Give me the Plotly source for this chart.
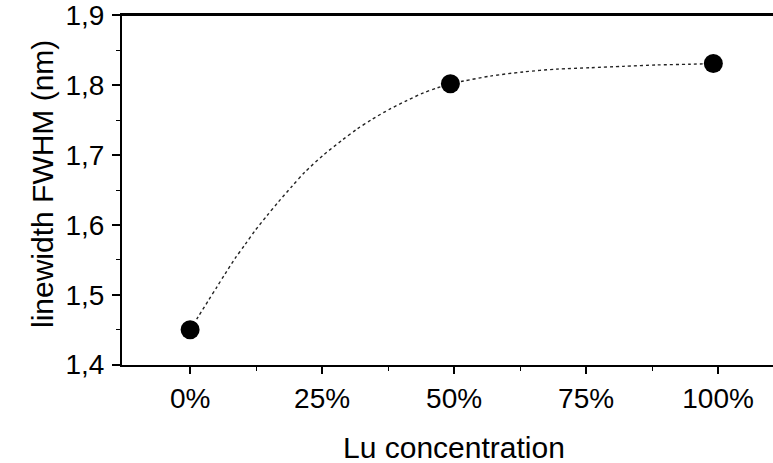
import plotly.graph_objects as go

# Measured data points
conc = [0, 49.3, 99.1]
fwhm = [1.45, 1.802, 1.831]

# Dotted guide curve
curve_x = [0, 1.57, 3.47, 5.06, 6.63, 8.52, 10.42, 12.31, 14.53, 16.72, 19.26, 21.78,
           25.25, 28.73, 31.57, 34.41, 37.88, 41.04, 44.19, 46.72, 49.3,
           51.8, 56.8, 63.1, 69.4, 75.8, 82.1, 88.4, 94.7, 99.1]
curve_y = [1.45, 1.469, 1.492, 1.511, 1.530, 1.552, 1.572, 1.592, 1.613, 1.633, 1.655, 1.676,
           1.700, 1.721, 1.737, 1.751, 1.766, 1.778, 1.789, 1.796, 1.802,
           1.806, 1.813, 1.819, 1.823, 1.825, 1.827, 1.829, 1.830, 1.831]

x_tickvals = [0, 25, 50, 75, 100]
x_ticktext = ["0%", "25%", "50%", "75%", "100%"]
y_tickvals = [1.4, 1.5, 1.6, 1.7, 1.8, 1.9]
y_ticktext = ["1,4", "1,5", "1,6", "1,7", "1,8", "1,9"]

FONT = "Liberation Sans, Arial, sans-serif"

fig = go.Figure()
fig.add_trace(go.Scatter(x=curve_x, y=curve_y, mode="lines",
                         line=dict(color="#222", width=1.4, dash="dot", shape="spline", smoothing=0.8),
                         hoverinfo="skip", showlegend=False))
fig.add_trace(go.Scatter(x=conc, y=fwhm, mode="markers",
                         marker=dict(color="black", size=19), showlegend=False))

fig.update_layout(
    width=773, height=463,
    margin=dict(l=122, r=0, t=15, b=98),
    paper_bgcolor="white", plot_bgcolor="white",
    separators=",.",
    font=dict(family=FONT, color="black", size=28),
    xaxis=dict(range=[-12.9, 110.4], tickvals=x_tickvals, ticktext=x_ticktext,
               showgrid=False, zeroline=False, showline=True, linecolor="black", linewidth=2,
               mirror=True, ticks="outside", ticklen=7, tickwidth=1.5, tickcolor="black",
               minor=dict(tickvals=[12.5, 37.5, 62.5, 87.5], ticks="outside", ticklen=4,
                          tickwidth=1.2, tickcolor="black"),
               tickfont=dict(size=28), ticklabelstandoff=0, ticklabeloverflow="allow"),
    yaxis=dict(range=[1.3995, 1.9005], tickvals=y_tickvals, ticktext=y_ticktext,
               showgrid=False, zeroline=False, showline=True, linecolor="black", linewidth=2,
               ticks="outside", ticklen=8, tickwidth=1.5, tickcolor="black",
               minor=dict(tickvals=[1.45, 1.55, 1.65, 1.75, 1.85], ticks="outside", ticklen=4,
                          tickwidth=1.2, tickcolor="black"),
               tickfont=dict(size=28), ticklabelstandoff=2, ticklabeloverflow="allow"),
    shapes=[dict(type="line", xref="paper", yref="paper", x0=0, x1=1, y0=1, y1=1,
                 line=dict(color="black", width=2))],
    annotations=[
        dict(text="Lu concentration", xref="paper", yref="paper", x=(454 - 122) / 651, y=0,
             yshift=-82, xanchor="center", yanchor="middle", showarrow=False, font=dict(size=30)),
        dict(text="linewidth FWHM (nm)", xref="paper", yref="paper", x=0, xshift=-80,
             y=(365 - 184) / 350, xanchor="center", yanchor="middle", textangle=-90,
             showarrow=False, font=dict(size=30)),
    ],
)

fig.write_html("out.html")
